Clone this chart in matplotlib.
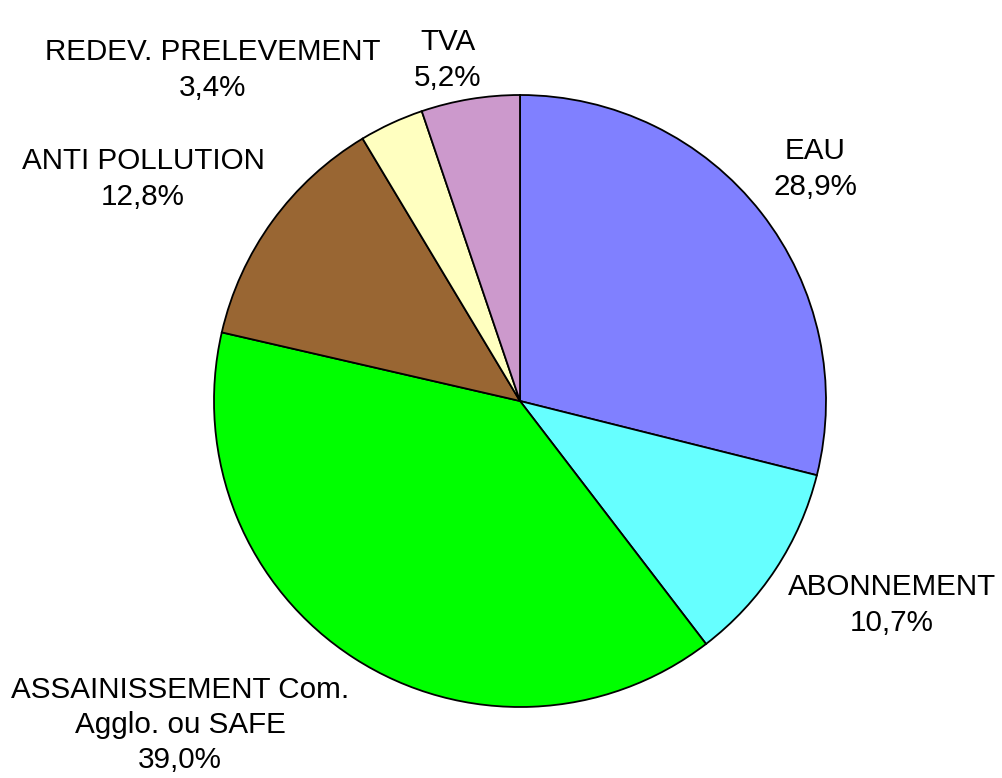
import matplotlib
matplotlib.use('Agg')
import matplotlib.pyplot as plt

labels = ['EAU', 'ABONNEMENT', 'ASSAINISSEMENT Com.\nAgglo. ou SAFE',
          'ANTI POLLUTION', 'REDEV. PRELEVEMENT', 'TVA']
values = [28.9, 10.7, 39.0, 12.8, 3.4, 5.2]
colors = ['#8080FF', '#66FFFF', '#00FF00', '#996633', '#FFFFC0', '#CC99CC']

# label block centres in pixel coords (x, y from top)
label_pos = [(815, 169), (892, 605), (180, 725), (143, 179), (213, 70), (448, 60)]

W, H = 1002, 778
fig = plt.figure(figsize=(W / 100, H / 100), dpi=100)
ax = fig.add_axes([0, 0, 1, 1])

ax.pie(values, colors=colors, startangle=90, counterclock=False,
       center=(520, H - 401), radius=306, frame=True,
       wedgeprops=dict(edgecolor='black', linewidth=1.3))
ax.set_xlim(0, W)
ax.set_ylim(0, H)
ax.set_aspect('equal')
ax.axis('off')

for lab, v, (x, y) in zip(labels, values, label_pos):
    txt = lab + '\n' + ('%.1f' % v).replace('.', ',') + '%'
    ax.text(x, H - y, txt, ha='center', va='center', fontsize=21.3,
            family='Liberation Sans', linespacing=1.32)

fig.savefig('out.png', dpi=100)
